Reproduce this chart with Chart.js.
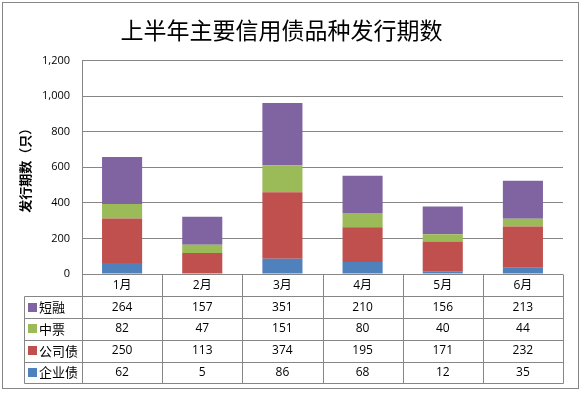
<!DOCTYPE html>
<html>
<head>
<meta charset="utf-8">
<script src="https://cdn.jsdelivr.net/npm/chart.js@4/dist/chart.umd.min.js"></script>
<style>
  body { margin: 0; background: #fff; }
</style>
</head>
<body>
<canvas id="chart" width="587" height="398"></canvas>
<script>
// 数据
const months = ['1月', '2月', '3月', '4月', '5月', '6月'];
const qiyezhai = [62, 5, 86, 68, 12, 35];        // 企业债
const gongsizhai = [250, 113, 374, 195, 171, 232]; // 公司债
const zhongpiao = [82, 47, 151, 80, 40, 44];       // 中票
const duanrong = [264, 157, 351, 210, 156, 213];   // 短融
const yTicks = [0, 200, 400, 600, 800, 1000, 1200];

const FONT = "'Open Sans', 'Noto Sans CJK SC', sans-serif";
const CJK = "'Noto Sans CJK SC', sans-serif";
const LINE = '#868686';

// 数据表中从上到下的顺序
const tableRows = [
    { name: '短融', color: '#8064A2', values: duanrong },
    { name: '中票', color: '#9BBB59', values: zhongpiao },
    { name: '公司债', color: '#C0504D', values: gongsizhai },
    { name: '企业债', color: '#4F81BD', values: qiyezhai }
];

const frame = {
    id: 'frame',
    beforeDraw(chart) {
        const c = chart.ctx;
        c.save();
        c.fillStyle = '#fff';
        c.fillRect(0, 0, chart.width, chart.height);
        c.strokeStyle = LINE;
        c.lineWidth = 1;
        c.strokeRect(2.5, 2.5, 576, 386);
        c.restore();
    },
    afterDraw(chart) {
        const c = chart.ctx;
        const area = chart.chartArea;
        const x = chart.scales.x;
        const rowH = 21.75;
        const top = Math.round(area.bottom) + 0.5;
        const labelLeft = 24.5;
        const right = Math.round(area.right) + 0.5;
        const colW = (area.right - area.left) / months.length;
        c.save();

        // 纵轴标题
        c.fillStyle = '#000';
        c.font = 'bold 13px ' + CJK;
        c.textAlign = 'center';
        c.textBaseline = 'middle';
        c.translate(25, (area.top + area.bottom) / 2);
        c.rotate(-Math.PI / 2);
        c.fillText('发行期数（只）', 0, 0);
        c.setTransform(1, 0, 0, 1, 0, 0);

        // 表格线
        c.strokeStyle = LINE;
        c.lineWidth = 1;
        c.beginPath();
        for (let r = 1; r <= tableRows.length + 1; r++) {
            const yy = Math.round(top + r * rowH) + 0.5;
            c.moveTo(labelLeft, yy);
            c.lineTo(right, yy);
        }
        const bottom = Math.round(top + (tableRows.length + 1) * rowH) + 0.5;
        c.moveTo(labelLeft, Math.round(top + rowH) + 0.5);
        c.lineTo(labelLeft, bottom);
        for (let i = 0; i <= months.length; i++) {
            const xx = Math.round(area.left + i * colW) + 0.5;
            c.moveTo(xx, top);
            c.lineTo(xx, bottom);
        }
        c.stroke();

        // 表头
        c.fillStyle = '#000';
        c.textAlign = 'center';
        c.textBaseline = 'middle';
        c.font = '12px ' + FONT;
        months.forEach((m, i) => {
            c.fillText(m, x.getPixelForValue(i), top + rowH / 2);
        });

        // 各行
        tableRows.forEach((row, r) => {
            const cy = top + (r + 1.5) * rowH;
            c.fillStyle = row.color;
            c.fillRect(28, Math.round(cy - 4.5), 9, 9);
            c.fillStyle = '#000';
            c.textAlign = 'left';
            c.font = '13px ' + CJK;
            c.fillText(row.name, 39, cy);
            c.textAlign = 'center';
            c.font = '12px ' + FONT;
            row.values.forEach((v, i) => {
                c.fillText(String(v), x.getPixelForValue(i), cy);
            });
        });
        c.restore();
    }
};

new Chart(document.getElementById('chart'), {
    type: 'bar',
    data: {
        labels: months,
        datasets: [
            { label: '企业债', data: qiyezhai, backgroundColor: '#4F81BD' },
            { label: '公司债', data: gongsizhai, backgroundColor: '#C0504D' },
            { label: '中票', data: zhongpiao, backgroundColor: '#9BBB59' },
            { label: '短融', data: duanrong, backgroundColor: '#8064A2' }
        ]
    },
    options: {
        responsive: false,
        animation: false,
        devicePixelRatio: 1,
        barPercentage: 0.5,
        categoryPercentage: 1,
        layout: { padding: { left: 0, right: 24, top: 0, bottom: 124 } },
        plugins: {
            legend: { display: false },
            tooltip: { enabled: false },
            title: {
                display: true,
                text: '上半年主要信用债品种发行期数',
                color: '#000',
                font: { size: 23, family: CJK, weight: 'normal' },
                padding: { top: 16, bottom: 17 }
            }
        },
        scales: {
            x: { stacked: true, display: false },
            y: {
                stacked: true,
                min: yTicks[0],
                max: yTicks[yTicks.length - 1],
                afterBuildTicks: s => { s.ticks = yTicks.map(v => ({ value: v })); },
                afterFit: s => { s.width = 82; },
                ticks: { color: '#000', padding: 12, font: { size: 11, family: FONT } },
                grid: { color: LINE, drawTicks: false },
                border: { color: LINE }
            }
        }
    },
    plugins: [frame]
});
</script>
</body>
</html>
